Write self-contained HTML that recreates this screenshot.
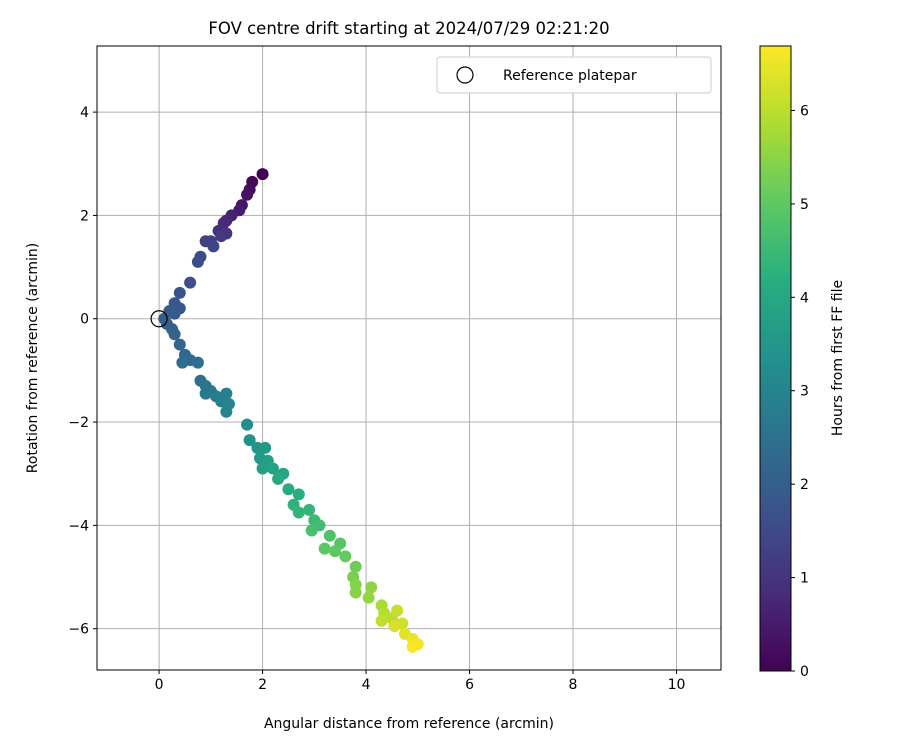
<!DOCTYPE html>
<html><head><meta charset="utf-8"><style>
body{margin:0;background:#fff;font-family:"Liberation Sans","DejaVu Sans",sans-serif}
svg text{font-family:"DejaVu Sans","Liberation Sans",sans-serif;fill:#000}
</style></head><body>
<svg id="c" width="900" height="750" xmlns="http://www.w3.org/2000/svg">
<defs><linearGradient id="vir" x1="0" y1="1" x2="0" y2="0">
<stop offset="0" stop-color="#440154"/><stop offset="0.125" stop-color="#472d7b"/><stop offset="0.25" stop-color="#3b528b"/><stop offset="0.375" stop-color="#2c728e"/><stop offset="0.5" stop-color="#21918c"/><stop offset="0.625" stop-color="#28ae80"/><stop offset="0.75" stop-color="#5ec962"/><stop offset="0.875" stop-color="#addc30"/><stop offset="1" stop-color="#fde725"/></linearGradient></defs>
<text x="409" y="34" font-size="16.5" text-anchor="middle">FOV centre drift starting at 2024/07/29 02:21:20</text>
<g id="grid"></g><g id="pts"></g><g id="axes"></g>
<text x="409" y="728" font-size="14" text-anchor="middle">Angular distance from reference (arcmin)</text>
<text transform="translate(37,358) rotate(-90)" font-size="14" text-anchor="middle">Rotation from reference (arcmin)</text>
<g>
<rect x="437" y="57" width="274" height="36" rx="3" fill="#fff" stroke="#ccc"/>
<circle cx="465" cy="75" r="8" fill="none" stroke="#000" stroke-width="1.2"/>
<text x="503" y="80" font-size="14">Reference platepar</text></g>
<g>
<rect x="760" y="46" width="31" height="625" fill="url(#vir)" stroke="#000" stroke-width="1"/>
<g id="cb"></g>
<text transform="translate(842,358) rotate(-90)" font-size="14" text-anchor="middle">Hours from first FF file</text></g>
</svg>
<script>
const xs=[2.0,1.8,1.75,1.7,1.6,1.55,1.4,1.3,1.25,1.15,1.3,1.2,1.0,0.9,1.05,0.8,0.75,0.6,0.4,0.3,0.4,0.3,0.2,0.1,0.15,0.25,0.3,0.4,0.5,0.6,0.45,0.75,0.8,0.9,1.0,0.9,1.1,1.3,1.2,1.3,1.35,1.7,1.75,1.9,2.05,1.95,2.1,2.0,2.2,2.4,2.3,2.5,2.7,2.6,2.7,2.9,3.0,3.1,2.95,3.3,3.5,3.2,3.4,3.6,3.8,3.75,3.8,3.8,4.1,4.05,4.3,4.35,4.5,4.3,4.6,4.7,4.55,4.75,4.9,5.0,4.9];
const ys=[2.8,2.65,2.5,2.4,2.2,2.1,2.0,1.9,1.85,1.7,1.65,1.6,1.5,1.5,1.4,1.2,1.1,0.7,0.5,0.3,0.2,0.1,0.15,0.0,-0.1,-0.2,-0.3,-0.5,-0.7,-0.8,-0.85,-0.85,-1.2,-1.3,-1.4,-1.45,-1.5,-1.45,-1.6,-1.8,-1.65,-2.05,-2.35,-2.5,-2.5,-2.7,-2.75,-2.9,-2.9,-3.0,-3.1,-3.3,-3.4,-3.6,-3.75,-3.7,-3.9,-4.0,-4.1,-4.2,-4.35,-4.45,-4.5,-4.6,-4.8,-5.0,-5.15,-5.3,-5.2,-5.4,-5.55,-5.7,-5.8,-5.85,-5.65,-5.9,-5.95,-6.1,-6.2,-6.3,-6.35];
const hours=[0,0.1,0.2,0.3,0.4,0.5,0.6,0.7,0.8,0.9,1.0,1.1,1.2,1.3,1.4,1.5,1.55,1.6,1.7,1.75,1.8,1.85,1.9,1.95,2.0,2.05,2.1,2.2,2.25,2.3,2.35,2.4,2.5,2.6,2.65,2.7,2.8,2.85,2.9,3.0,3.05,3.3,3.4,3.5,3.55,3.6,3.7,3.75,3.8,3.9,4.0,4.1,4.2,4.3,4.35,4.4,4.5,4.6,4.7,4.8,4.9,4.95,5.0,5.1,5.2,5.3,5.4,5.45,5.5,5.6,5.8,5.9,6.0,6.05,6.1,6.2,6.3,6.4,6.5,6.6,6.65];
const xTicks=[0,2,4,6,8,10], yTicks=[-6,-4,-2,0,2,4], cbTicks=[0,1,2,3,4,5,6];
const X0=97,X1=721,Y0=46,Y1=670, xmin=-1.2,xmax=10.86,ymin=-6.8,ymax=5.28, hmax=6.69;
const sx=v=>X0+(v-xmin)/(xmax-xmin)*(X1-X0), sy=v=>Y1-(v-ymin)/(ymax-ymin)*(Y1-Y0);
const ns='http://www.w3.org/2000/svg';
function mk(t,a,p){const e=document.createElementNS(ns,t);for(const k in a)e.setAttribute(k,a[k]);p.appendChild(e);return e;}
const V=[[68,1,84],[71,45,123],[59,82,139],[44,114,142],[33,145,140],[40,174,128],[94,201,98],[173,220,48],[253,231,37]];
function vir(t){t=Math.max(0,Math.min(1,t))*8;const i=Math.min(7,Math.floor(t)),f=t-i;const c=V[i].map((v,k)=>Math.round(v+(V[i+1][k]-v)*f));return `rgb(${c})`;}
const G=document.getElementById('grid'),A=document.getElementById('axes'),P=document.getElementById('pts'),CB=document.getElementById('cb');
xTicks.forEach(v=>{const x=sx(v);
const l=mk('line',{x1:x,x2:x,y1:Y0,y2:Y1,stroke:'#b0b0b0','stroke-width':1},G);
mk('line',{x1:x,x2:x,y1:Y1,y2:Y1+4,stroke:'#000'},A);
const t=mk('text',{x:x,y:Y1+19,'font-size':14,'text-anchor':'middle'},A);t.textContent=v;});
yTicks.forEach(v=>{const y=sy(v);
const l=mk('line',{x1:X0,x2:X1,y1:y,y2:y,stroke:'#b0b0b0','stroke-width':1},G);
mk('line',{x1:X0-4,x2:X0,y1:y,y2:y,stroke:'#000'},A);
const t=mk('text',{x:X0-8,y:y+5,'font-size':14,'text-anchor':'end'},A);t.textContent=v<0?'\u2212'+(-v):v;});
mk('rect',{x:X0,y:Y0,width:X1-X0,height:Y1-Y0,fill:'none',stroke:'#000','stroke-width':1},A);
xs.forEach((v,i)=>{const c=mk('circle',{cx:sx(v),cy:sy(ys[i]),r:6,fill:vir(hours[i]/hmax)},P);});
const r=mk('circle',{cx:sx(0),cy:sy(0),r:8,fill:'none',stroke:'#000','stroke-width':1.2},P);
cbTicks.forEach(v=>{const y=671-v/hmax*625;mk('line',{x1:791,x2:795,y1:y,y2:y,stroke:'#000'},CB);
const t=mk('text',{x:800,y:y+5,'font-size':14},CB);t.textContent=v;});
</script></body></html>
